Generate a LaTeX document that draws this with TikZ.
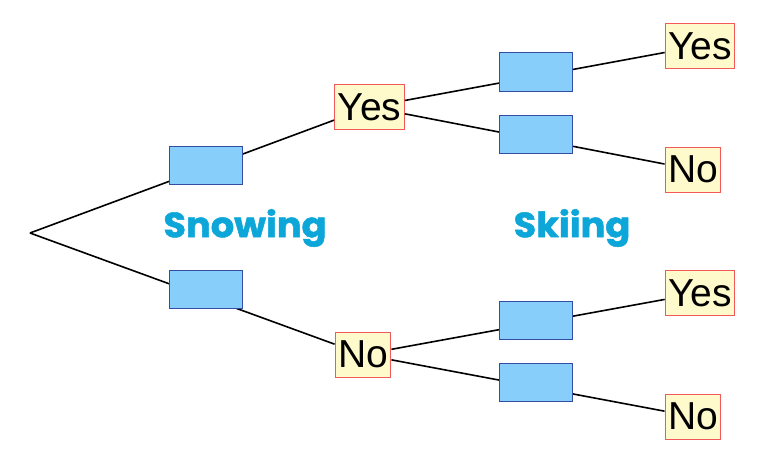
\documentclass[tikz,border=0pt]{standalone}
\usepackage{fontspec}
\setmainfont{Liberation Sans}
\newfontfamily\snowlabelfont{Poppins}[FakeBold=1.5,FakeStretch=1.05]
\definecolor{treeanswerfill}{rgb}{1.0,0.98,0.8}
\definecolor{treeanswerdraw}{rgb}{0.95,0.35,0.35}
\definecolor{treeboxfill}{rgb}{0.53,0.81,0.98}
\definecolor{treeboxdraw}{rgb}{0.2,0.3,0.65}
\definecolor{treelabel}{rgb}{0.05,0.65,0.85}
\tikzset{
  answer/.style={draw=treeanswerdraw,fill=treeanswerfill,line width=1pt,inner xsep=3pt,inner ysep=0pt,minimum height=45pt,font=\fontsize{39}{39}\selectfont},
  probbox/.style={draw=treeboxdraw,fill=treeboxfill,line width=1pt,inner sep=0pt,minimum width=73pt,minimum height=38pt},
  branch/.style={black,line width=1.6pt},
  eventlabel/.style={text=treelabel,font=\snowlabelfont\bfseries\fontsize{35}{35}\selectfont}
}
\begin{document}
\begin{tikzpicture}[x=1pt,y=-1pt]
\useasboundingbox (0,0) rectangle (760,460);
\coordinate (root) at (30,233);
\node[answer] (yes) at (369.5,107) {Yes};
\node[answer] (no) at (363,354.5) {No};
\node[answer] (yesyes) at (700,46) {Yes};
\node[answer] (yesno) at (693,169.5) {No};
\node[answer] (noyes) at (700,293) {Yes};
\node[answer] (nono) at (693,416.5) {No};
\draw[branch] (root) -- (yes);
\draw[branch] (root) -- (no);
\draw[branch] (yes) -- (yesyes);
\draw[branch] (yes) -- (yesno);
\draw[branch] (no) -- (noyes);
\draw[branch] (no) -- (nono);
\node[probbox] (snowyes) at (205.5,165) {};
\node[probbox] (snowno) at (205.5,289) {};
\node[probbox] (skiyesyes) at (536,72) {};
\node[probbox] (skiyesno) at (536,134) {};
\node[probbox] (skinoyes) at (536,320.5) {};
\node[probbox] (skinono) at (536,382.5) {};
\node[eventlabel] (snowing) at (245,228) {Snowing};
\node[eventlabel] (skiing) at (572,228) {Skiing};
\end{tikzpicture}
\end{document}
